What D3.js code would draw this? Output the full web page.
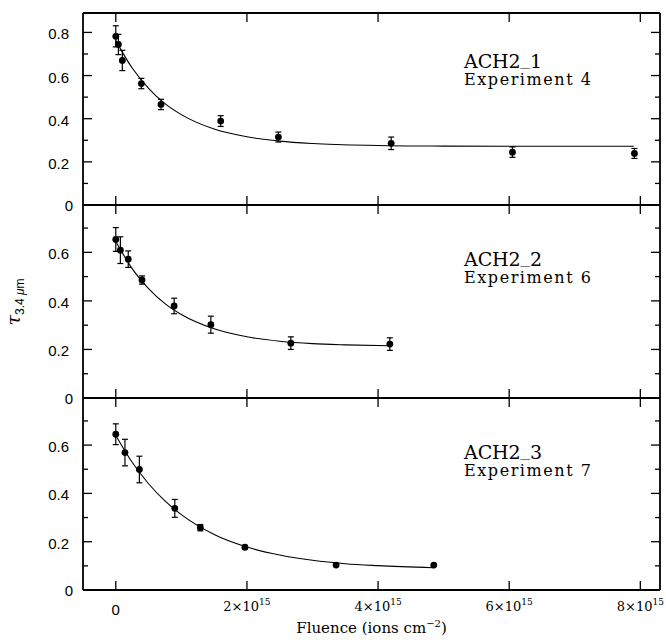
<!DOCTYPE html>
<html>
<head>
<meta charset="utf-8">
<script src="https://cdn.jsdelivr.net/npm/d3@7"></script>
<style>
  body { margin: 0; background: #fff; }
  svg { display: block; }
  .frame { stroke: #000; stroke-width: 1.8; fill: none; }
  .tick { stroke: #000; stroke-width: 1.3; }
  .fit { stroke: #000; stroke-width: 1.1; fill: none; }
  .err { stroke: #000; stroke-width: 1.2; }
  .ylab { font-family: "Liberation Sans", Arial, sans-serif; font-size: 15px; }
  .xlab { font-family: "DejaVu Serif", serif; font-size: 13px; }
  .ann { font-family: "DejaVu Serif", serif; }
</style>
</head>
<body>
<div id="chart"></div>
<script>
// fluence in units of 1e15 ions cm^-2
var fluence1 = [0, 0.04, 0.10, 0.39, 0.69, 1.60, 2.48, 4.20, 6.05, 7.91];
var tau1 = [0.782, 0.744, 0.670, 0.563, 0.466, 0.389, 0.315, 0.286, 0.245, 0.239];
var err1 = [0.049, 0.047, 0.047, 0.024, 0.024, 0.025, 0.023, 0.029, 0.024, 0.023];

var fluence2 = [0, 0.07, 0.19, 0.40, 0.89, 1.45, 2.67, 4.18];
var tau2 = [0.653, 0.609, 0.572, 0.486, 0.379, 0.302, 0.226, 0.222];
var err2 = [0.049, 0.055, 0.034, 0.017, 0.032, 0.035, 0.026, 0.026];

var fluence3 = [0, 0.14, 0.36, 0.90, 1.29, 1.97, 3.36, 4.85];
var tau3 = [0.645, 0.569, 0.499, 0.338, 0.258, 0.177, 0.103, 0.103];
var err3 = [0.043, 0.055, 0.055, 0.037, 0.013, 0.007, 0.005, 0.005];

// fitted decay curves
var fitX1 = [0, 0.25, 0.5, 0.75, 1.0, 1.5, 2.0, 2.5, 3.0, 4.0, 5.0, 6.0, 7.9];
var fitY1 = [0.762, 0.635, 0.541, 0.470, 0.419, 0.352, 0.316, 0.296, 0.285, 0.276, 0.273, 0.272, 0.272];
var fitX2 = [0, 0.25, 0.5, 0.75, 1.0, 1.5, 2.0, 2.5, 3.0, 3.5, 4.18];
var fitY2 = [0.645, 0.533, 0.451, 0.389, 0.344, 0.285, 0.252, 0.234, 0.224, 0.219, 0.215];
var fitX3 = [0, 0.25, 0.5, 0.75, 1.0, 1.5, 2.0, 2.5, 3.0, 3.5, 4.0, 4.85];
var fitY3 = [0.640, 0.529, 0.440, 0.369, 0.312, 0.230, 0.178, 0.145, 0.123, 0.109, 0.101, 0.092];

var sampleNames = ["ACH2_1", "ACH2_2", "ACH2_3"];
var experimentNames = ["Experiment 4", "Experiment 6", "Experiment 7"];
var yMax = [0.89, 0.795, 0.795];

var xTicks = [0, 2, 4, 6, 8];
var xTickLabels = ["0", "2×10", "4×10", "6×10", "8×10"];

var width = 666,
  height = 640,
  left = 83,
  right = 660,
  panelTops = [13, 205, 398],
  panelBottoms = [205, 398, 590];

var svg = d3
  .select("#chart")
  .append("svg")
  .attr("width", width)
  .attr("height", height);

var x = d3.scaleLinear().domain([-0.5, 8.3]).range([left, right]);

var panels = [
  { fx: fluence1, ty: tau1, er: err1, cx: fitX1, cy: fitY1 },
  { fx: fluence2, ty: tau2, er: err2, cx: fitX2, cy: fitY2 },
  { fx: fluence3, ty: tau3, er: err3, cx: fitX3, cy: fitY3 }
];

panels.forEach(function (p, i) {
  var top = panelTops[i],
    bottom = panelBottoms[i];
  var y = d3.scaleLinear().domain([0, yMax[i]]).range([bottom, top]);
  var g = svg.append("g").attr("class", "panel");

  // y ticks, both sides, pointing inward
  var yt = d3.range(1, Math.floor(yMax[i] * 10 + 1e-6) + 1).map(function (k) {
    return k / 10;
  });
  yt.forEach(function (v, k) {
    var major = (k + 1) % 2 === 0;
    var len = major ? 9 : 5;
    g.append("line").attr("class", "tick")
      .attr("x1", left).attr("x2", left + len)
      .attr("y1", y(v)).attr("y2", y(v));
    g.append("line").attr("class", "tick")
      .attr("x1", right).attr("x2", right - len)
      .attr("y1", y(v)).attr("y2", y(v));
    if (major) {
      g.append("text").attr("class", "ylab")
        .attr("x", 69).attr("y", y(v) + 7)
        .attr("text-anchor", "end")
        .text(d3.format(".1f")(v));
    }
  });
  g.append("text").attr("class", "ylab")
    .attr("x", 73).attr("y", y(0) + 6)
    .attr("text-anchor", "end")
    .text("0");

  // x ticks top and bottom of each panel
  xTicks.forEach(function (t) {
    g.append("line").attr("class", "tick")
      .attr("x1", x(t)).attr("x2", x(t))
      .attr("y1", top).attr("y2", top + 9);
    g.append("line").attr("class", "tick")
      .attr("x1", x(t)).attr("x2", x(t))
      .attr("y1", bottom).attr("y2", bottom - 9);
  });

  // fit curve
  var line = d3.line()
    .x(function (d) { return x(d[0]); })
    .y(function (d) { return y(d[1]); })
    .curve(d3.curveMonotoneX);
  g.append("path").attr("class", "fit")
    .attr("d", line(d3.zip(p.cx, p.cy)));

  // error bars + points
  var pts = d3.zip(p.fx, p.ty, p.er);
  var eb = g.selectAll("g.eb").data(pts).enter().append("g").attr("class", "eb");
  eb.append("line").attr("class", "err")
    .attr("x1", function (d) { return x(d[0]); })
    .attr("x2", function (d) { return x(d[0]); })
    .attr("y1", function (d) { return y(d[1] - d[2]); })
    .attr("y2", function (d) { return y(d[1] + d[2]); });
  [-1, 1].forEach(function (s) {
    eb.append("line").attr("class", "err")
      .attr("x1", function (d) { return x(d[0]) - 3; })
      .attr("x2", function (d) { return x(d[0]) + 3; })
      .attr("y1", function (d) { return y(d[1] + s * d[2]); })
      .attr("y2", function (d) { return y(d[1] + s * d[2]); });
  });
  eb.append("circle")
    .attr("cx", function (d) { return x(d[0]); })
    .attr("cy", function (d) { return y(d[1]); })
    .attr("r", 3.4)
    .attr("fill", "#000");

  // annotation: underscore raised to sit on the baseline like the original
  var annY = i === 0 ? top + 55 : top + 61;
  var parts = sampleNames[i].split("_");
  var at = g.append("text").attr("class", "ann")
    .attr("x", 464).attr("y", annY)
    .attr("font-size", 19)
    .attr("textLength", 78).attr("lengthAdjust", "spacing");
  at.append("tspan").text(parts[0]);
  at.append("tspan").attr("dy", -4).text("_");
  at.append("tspan").attr("dy", 4).text(parts[1]);
  g.append("text").attr("class", "ann")
    .attr("x", 464).attr("y", annY + 17)
    .attr("font-size", 16)
    .attr("textLength", 127).attr("lengthAdjust", "spacing")
    .text(experimentNames[i]);
});

// frame
svg.append("line").attr("class", "frame")
  .attr("x1", left).attr("x2", left).attr("y1", panelTops[0]).attr("y2", panelBottoms[2]);
svg.append("line").attr("class", "frame")
  .attr("x1", right).attr("x2", right).attr("y1", panelTops[0]).attr("y2", panelBottoms[2]);
[panelTops[0]].concat(panelBottoms).forEach(function (yy) {
  svg.append("line").attr("class", "frame")
    .attr("x1", left).attr("x2", right).attr("y1", yy).attr("y2", yy);
});

// x tick labels
xTicks.forEach(function (t, k) {
  if (t === 0) {
    svg.append("text").attr("class", "ylab")
      .attr("x", x(t)).attr("y", 615)
      .attr("text-anchor", "middle")
      .text("0");
  } else {
    var tx = svg.append("text").attr("class", "xlab")
      .attr("x", x(t)).attr("y", 611)
      .attr("text-anchor", "middle");
    tx.append("tspan").text(xTickLabels[k]);
    tx.append("tspan").attr("dy", -6).attr("font-size", 9).text("15");
  }
});

// x title
var xt = svg.append("text")
  .attr("x", (left + right) / 2).attr("y", 633)
  .attr("text-anchor", "middle")
  .attr("font-family", "DejaVu Serif, serif")
  .attr("font-size", 15);
xt.append("tspan").text("Fluence (ions cm");
xt.append("tspan").attr("dy", -6).attr("font-size", 10).text("−2");
xt.append("tspan").attr("dy", 6).text(")");

// y title
var yt = svg.append("text")
  .attr("transform", "translate(20,302) rotate(-90)")
  .attr("text-anchor", "middle");
yt.append("tspan")
  .attr("font-family", "DejaVu Serif, serif")
  .attr("font-style", "italic")
  .attr("font-size", 19)
  .text("τ");
yt.append("tspan")
  .attr("dy", 4)
  .attr("font-family", "Liberation Sans, Arial, sans-serif")
  .attr("font-size", 12)
  .text("3.4 ");
yt.append("tspan")
  .attr("font-family", "Liberation Sans, Arial, sans-serif")
  .attr("font-style", "italic")
  .attr("font-size", 12)
  .text("μ");
yt.append("tspan")
  .attr("font-family", "Liberation Sans, Arial, sans-serif")
  .attr("font-size", 12)
  .text("m");
</script>
</body>
</html>
